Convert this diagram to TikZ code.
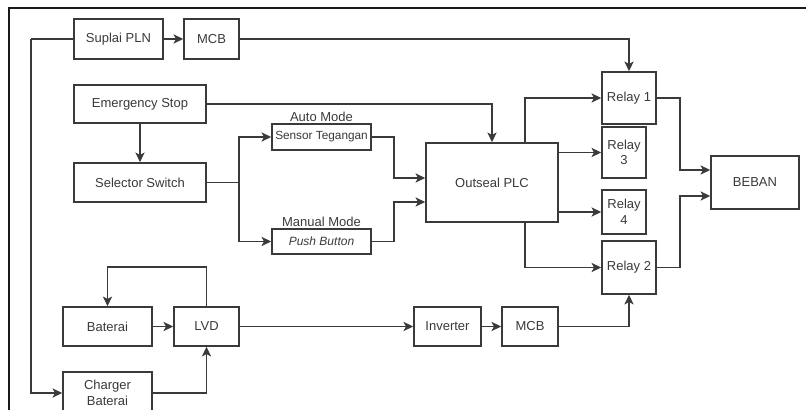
\documentclass[tikz,border=0pt]{standalone}
\usepackage{fontspec}
\setmainfont{Liberation Sans}
\usepackage{tikz}
\usetikzlibrary{positioning,arrows.meta,calc}
\definecolor{inkgray}{HTML}{3A3A3A}
\definecolor{framegray}{HTML}{1A1A1A}

\tikzset{
  blok/.style={draw=inkgray, line width=0.85pt, fill=white, inner sep=0pt, align=center,
    text=inkgray, font=\fontsize{6.5pt}{7.8pt}\selectfont},
  wire/.style={draw=inkgray, line width=0.7pt},
  arr/.style={wire, -{Stealth[length=4.8pt,width=4.6pt,inset=1.2pt]}},
  modelabel/.style={text=inkgray, inner sep=0.8pt, font=\fontsize{6.5pt}{7.8pt}\selectfont}
}

\begin{document}
\begin{tikzpicture}[x=0.5pt, y=-0.5pt]
\useasboundingbox (0,0) rectangle (806,410);
\clip (0,0) rectangle (806,410);

% Frame
\draw[framegray, line width=1.1pt] (9,412) -- (9,8) -- (808,8);

% Power supply
\node[blok, minimum width=44.5pt, minimum height=20pt] (suplai) at (118.5,39) {Suplai PLN};
\node[blok, minimum width=27.5pt, minimum height=20pt] (mcbA) at (211.5,39) {MCB};

% Control inputs
\node[blok, minimum width=66pt, minimum height=19pt] (estop) at (140,104) {Emergency Stop};
\node[blok, minimum width=66pt, minimum height=19.5pt] (selsw) at (140,182.5) {Selector Switch};
\node[blok, minimum width=49.5pt, minimum height=13pt, font=\fontsize{5.9pt}{7pt}\selectfont] (sensor) at (321.5,137) {Sensor Tegangan};
\node[blok, minimum width=49.5pt, minimum height=12.5pt, font=\fontsize{6pt}{7pt}\selectfont\itshape] (pushb) at (321.5,241.5) {Push Button};
\node[modelabel, above=0pt of sensor] (lblAuto) {Auto Mode};
\node[modelabel, above=0pt of pushb] (lblManual) {Manual Mode};

% Controller and relays
\node[blok, minimum width=66pt, minimum height=39.5pt] (plc) at (492,182.5) {Outseal PLC};
\node[blok, minimum width=27pt, minimum height=26pt] (relA) at (629,98) {Relay 1};
\node[blok, minimum width=22pt, minimum height=25.5pt] (relC) at (624,152.5) {Relay\\3};
\node[blok, minimum width=22pt, minimum height=22pt] (relD) at (624,212) {Relay\\4};
\node[blok, minimum width=27pt, minimum height=26.5pt] (relB) at (629,267.5) {Relay 2};
\node[blok, minimum width=44pt, minimum height=26.5pt] (beban) at (755,182.5) {BEBAN};

% Battery path
\node[blok, minimum width=44.5pt, minimum height=19.5pt] (bat) at (107.5,326.5) {Baterai};
\node[blok, minimum width=32.5pt, minimum height=19.5pt] (lvd) at (206.5,326.5) {LVD};
\node[blok, minimum width=33.5pt, minimum height=19.5pt] (inv) at (447.5,326.5) {Inverter};
\node[blok, minimum width=28pt, minimum height=19.5pt] (mcbB) at (530,326.5) {MCB};
\node[blok, minimum width=44.5pt, minimum height=21pt] (charger) at (107.5,393) {Charger\\Baterai};

% Supply wiring
\coordinate (busL) at (31,39);
\draw[wire] (suplai.west) -- (busL);
\draw[arr] (busL) |- (charger.west);
\draw[arr] (suplai) -- (mcbA);
\draw[arr] (mcbA.east) -| (relA.north);

% Control wiring
\draw[arr] (estop.east) -| (plc.north);
\draw[arr] (estop) -- (selsw);
\coordinate (jSel) at (239,182.5);
\draw[wire] (selsw.east) -- (jSel);
\draw[arr] (jSel) |- (sensor.west);
\draw[arr] (jSel) |- (pushb.west);
\draw[arr] (sensor.east) -- ++(22,0) |- ($(plc.west)+(0,-4.5)$);
\draw[arr] (pushb.east) -- ++(22,0) |- ($(plc.west)+(0,19.5)$);

% PLC to relays
\draw[arr] ($(plc.north)+(33,0)$) |- (relA.west);
\draw[arr] (plc.east |- relC.west) -- (relC.west);
\draw[arr] (plc.east |- relD.west) -- (relD.west);
\draw[arr] ($(plc.south)+(33,0)$) |- (relB.west);

% Relays to load
\draw[arr] (relA.east) -- ++(23,0) |- ($(beban.west)+(0,-12.5)$);
\draw[arr] (relB.east) -- ++(23,0) |- ($(beban.west)+(0,13.5)$);

% Battery wiring
\draw[arr] (bat) -- (lvd);
\draw[arr] (lvd.north) -- ++(0,-39) -| (bat.north);
\draw[arr] (charger.east) -| (lvd.south);
\draw[arr] (lvd) -- (inv);
\draw[arr] (inv) -- (mcbB);
\draw[arr] (mcbB.east) -| (relB.south);

\end{tikzpicture}
\end{document}
